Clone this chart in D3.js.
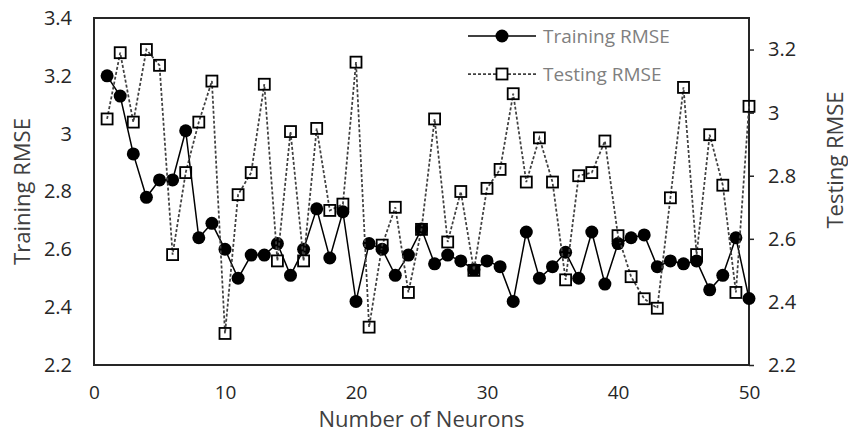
<!DOCTYPE html>
<html>
<head>
<meta charset="utf-8">
<script src="https://cdn.jsdelivr.net/npm/d3@7"></script>
<style>
  body { margin: 0; background: #fff; }
  text { font-family: "Open Sans", sans-serif; }
</style>
</head>
<body>
<div id="chart"></div>
<script>
// number of neurons 1..50
var neurons = [1,2,3,4,5,6,7,8,9,10,11,12,13,14,15,16,17,18,19,20,21,22,23,24,25,
               26,27,28,29,30,31,32,33,34,35,36,37,38,39,40,41,42,43,44,45,46,47,48,49,50];

var trainingRMSE = [3.20,3.13,2.93,2.78,2.84,2.84,3.01,2.64,2.69,2.60,
                    2.50,2.58,2.58,2.62,2.51,2.60,2.74,2.57,2.73,2.42,
                    2.62,2.60,2.51,2.58,2.67,2.55,2.58,2.56,2.53,2.56,
                    2.54,2.42,2.66,2.50,2.54,2.59,2.50,2.66,2.48,2.62,
                    2.64,2.65,2.54,2.56,2.55,2.56,2.46,2.51,2.64,2.43];

var testingRMSE = [2.98,3.19,2.97,3.20,3.15,2.55,2.81,2.97,3.10,2.30,
                   2.74,2.81,3.09,2.53,2.94,2.53,2.95,2.69,2.71,3.16,
                   2.32,2.58,2.70,2.43,2.63,2.98,2.59,2.75,2.50,2.76,
                   2.82,3.06,2.78,2.92,2.78,2.47,2.80,2.81,2.91,2.61,
                   2.48,2.41,2.38,2.73,3.08,2.55,2.93,2.77,2.43,3.02];

var xTicks = [0,10,20,30,40,50];
var leftTicks = [2.2,2.4,2.6,2.8,3.0,3.2,3.4];
var rightTicks = [2.2,2.4,2.6,2.8,3.0,3.2];

var width = 848, height = 436;
var margin = {top: 18, right: 99, bottom: 71, left: 94};

var svg = d3.select('#chart').append('svg')
    .attr('width', width)
    .attr('height', height);

var x = d3.scaleLinear().domain([0, 50]).range([margin.left, width - margin.right]);
var yLeft = d3.scaleLinear().domain([2.2, 3.4]).range([height - margin.bottom, margin.top]);
var yRight = d3.scaleLinear().domain([2.2, 3.3]).range([height - margin.bottom, margin.top]);

var fmt = function(d) { return d3.format('')(+d.toFixed(1)); };

// axes
svg.append('g')
    .attr('transform', 'translate(0,' + (height - margin.bottom) + ')')
    .call(d3.axisBottom(x).tickValues(xTicks).tickSize(0).tickPadding(21))
    .call(function(g) { g.select('.domain').remove(); })
    .selectAll('text').attr('font-size', 19).attr('fill', '#262626')
    .attr('font-family', '"Open Sans", sans-serif');

svg.append('g')
    .attr('transform', 'translate(' + margin.left + ',0)')
    .call(d3.axisLeft(yLeft).tickValues(leftTicks).tickFormat(fmt).tickSize(0).tickPadding(22))
    .call(function(g) { g.select('.domain').remove(); })
    .selectAll('text').attr('font-size', 20).attr('fill', '#262626')
    .attr('font-family', '"Open Sans", sans-serif');

svg.append('g')
    .attr('transform', 'translate(' + (width - margin.right) + ',0)')
    .call(d3.axisRight(yRight).tickValues(rightTicks).tickFormat(fmt).tickSize(5).tickPadding(14))
    .call(function(g) {
        g.select('.domain').remove();
        g.selectAll('line').attr('stroke', '#262626').attr('stroke-width', 1.5);
    })
    .selectAll('text').attr('font-size', 20).attr('fill', '#262626')
    .attr('font-family', '"Open Sans", sans-serif');

// plot border
svg.append('rect')
    .attr('x', margin.left)
    .attr('y', margin.top)
    .attr('width', width - margin.left - margin.right)
    .attr('height', height - margin.top - margin.bottom)
    .attr('fill', 'none')
    .attr('stroke', '#262626')
    .attr('stroke-width', 2);

// axis titles
svg.append('text')
    .attr('x', (margin.left + width - margin.right) / 2)
    .attr('y', 427)
    .attr('text-anchor', 'middle')
    .attr('font-size', 22)
    .attr('fill', '#404040')
    .text('Number of Neurons');

svg.append('text')
    .attr('transform', 'translate(30,' + ((margin.top + height - margin.bottom) / 2) + ') rotate(-90)')
    .attr('text-anchor', 'middle')
    .attr('font-size', 22)
    .attr('fill', '#404040')
    .text('Training RMSE');

svg.append('text')
    .attr('transform', 'translate(843,' + 160 + ') rotate(-90)')
    .attr('text-anchor', 'middle')
    .attr('font-size', 22)
    .attr('fill', '#404040')
    .text('Testing RMSE');

// training series
var lineTrain = d3.line()
    .x(function(d, i) { return x(neurons[i]); })
    .y(function(d) { return yLeft(d); });

svg.append('path')
    .datum(trainingRMSE)
    .attr('d', lineTrain)
    .attr('fill', 'none')
    .attr('stroke', '#000')
    .attr('stroke-width', 1.5);

svg.selectAll('circle.train')
    .data(trainingRMSE)
    .enter()
    .append('circle')
    .attr('class', 'train')
    .attr('cx', function(d, i) { return x(neurons[i]); })
    .attr('cy', function(d) { return yLeft(d); })
    .attr('r', 6.5)
    .attr('fill', '#000');

// testing series (secondary axis)
var lineTest = d3.line()
    .x(function(d, i) { return x(neurons[i]); })
    .y(function(d) { return yRight(d); });

svg.append('path')
    .datum(testingRMSE)
    .attr('d', lineTest)
    .attr('fill', 'none')
    .attr('stroke', '#404040')
    .attr('stroke-width', 1.75)
    .attr('stroke-dasharray', '3,2');

svg.selectAll('rect.test')
    .data(testingRMSE)
    .enter()
    .append('rect')
    .attr('class', 'test')
    .attr('x', function(d, i) { return x(neurons[i]) - 5.5; })
    .attr('y', function(d) { return yRight(d) - 5.5; })
    .attr('width', 11)
    .attr('height', 11)
    .attr('fill', 'none')
    .attr('stroke', '#000')
    .attr('stroke-width', 1.8);

// legend
var legend = svg.append('g').attr('transform', 'translate(468,0)');

legend.append('line')
    .attr('x1', 0).attr('x2', 68).attr('y1', 36).attr('y2', 36)
    .attr('stroke', '#000').attr('stroke-width', 1.5);
legend.append('circle')
    .attr('cx', 34).attr('cy', 36).attr('r', 6.5).attr('fill', '#000');
legend.append('text')
    .attr('x', 75).attr('y', 43)
    .attr('font-size', 19).attr('fill', '#7f7f7f')
    .text('Training RMSE');

legend.append('line')
    .attr('x1', 0).attr('x2', 68).attr('y1', 74).attr('y2', 74)
    .attr('stroke', '#404040').attr('stroke-width', 1.75)
    .attr('stroke-dasharray', '3,2');
legend.append('rect')
    .attr('x', 28.5).attr('y', 68.5).attr('width', 11).attr('height', 11)
    .attr('fill', '#fff').attr('stroke', '#000').attr('stroke-width', 1.8);
legend.append('text')
    .attr('x', 75).attr('y', 81)
    .attr('font-size', 19).attr('fill', '#7f7f7f')
    .text('Testing RMSE');
</script>
</body>
</html>
